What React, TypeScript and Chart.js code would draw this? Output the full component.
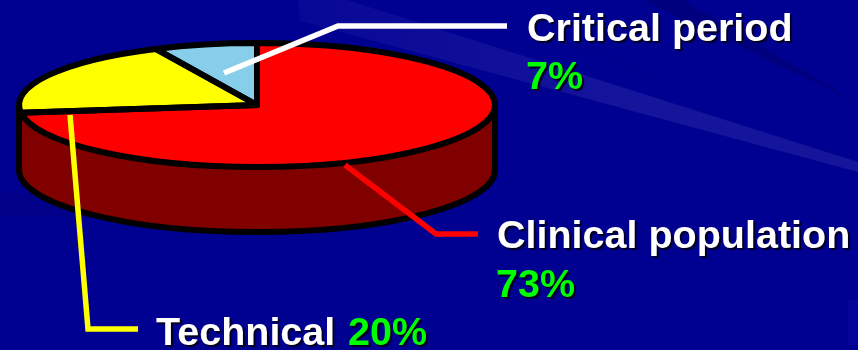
import React, { useEffect, useRef } from "react";
import { Chart, registerables } from "chart.js";

Chart.register(...registerables);

const categories = ["Clinical population", "Technical", "Critical period"];
const shares = [73, 20, 7];
const sliceColors = ["#FF0000", "#FFFF00", "#87CEEB"];
const wallColors = ["#800000", "#808000", "#43677A"];

const WIDTH = 858;
const HEIGHT = 350;
const PIE_X = 257;
const PIE_Y = 105;
const PIE_RX = 238;
const PIE_RY = 62;
const PIE_DEPTH = 65;
const OUTLINE = 6;
const FONT = 'bold 39.5px "Liberation Sans", Arial, sans-serif';

type Point = [number, number];

// Slide backdrop: faint rays across the navy field.
const lightRay: Point[] = [[298, 0], [347, 0], [858, 162], [858, 172], [300, 21]];
const darkRay: Point[] = [[643, 0], [683, 0], [858, 103]];
const darkRay2: Point[] = [[545, 35], [570, 42], [760, 120]];
const darkBand: Point[] = [[0, 193], [90, 193], [90, 217], [0, 217]];

const leaderCritical: Point[] = [[224, 73], [338, 26], [507, 26]];
const leaderClinical: Point[] = [[345, 165], [436, 234], [478, 234]];
const leaderTechnical: Point[] = [[70, 115], [88, 329], [138, 329]];

function polygon(ctx: CanvasRenderingContext2D, pts: Point[], color: string | CanvasGradient) {
  ctx.fillStyle = color;
  ctx.beginPath();
  pts.forEach(([x, y], i) => (i ? ctx.lineTo(x, y) : ctx.moveTo(x, y)));
  ctx.closePath();
  ctx.fill();
}

function polyline(ctx: CanvasRenderingContext2D, pts: Point[], color: string) {
  ctx.strokeStyle = color;
  ctx.lineWidth = 5.5;
  ctx.lineJoin = "miter";
  ctx.lineCap = "butt";
  ctx.beginPath();
  pts.forEach(([x, y], i) => (i ? ctx.lineTo(x, y) : ctx.moveTo(x, y)));
  ctx.stroke();
}

function label(ctx: CanvasRenderingContext2D, text: string, x: number, y: number, color: string) {
  ctx.save();
  ctx.font = FONT;
  ctx.textBaseline = "alphabetic";
  ctx.shadowColor = "rgba(0,0,30,1)";
  ctx.shadowOffsetX = 2;
  ctx.shadowOffsetY = 2;
  ctx.shadowBlur = 1;
  ctx.fillStyle = color;
  ctx.fillText(text, x, y);
  ctx.restore();
}

// Lays the flat pie down as a tilted disc with a solid wall under its front edge.
const tiltedPie = {
  id: "tiltedPie",
  beforeDraw(chart: any) {
    const ctx = chart.ctx as CanvasRenderingContext2D;
    ctx.save();
    ctx.fillStyle = "#000091";
    ctx.fillRect(0, 0, WIDTH, HEIGHT);
    polygon(ctx, darkBand, "#000088");
    const glow = ctx.createLinearGradient(298, 0, 640, 0);
    glow.addColorStop(0, "#080896");
    glow.addColorStop(1, "#15159C");
    polygon(ctx, lightRay, glow);
    polygon(ctx, darkRay, "#00007F");
    polygon(ctx, darkRay2, "#000088");
    polygon(ctx, [[848, 300], [858, 300], [858, 345], [848, 345]], "#05059A");
    ctx.restore();
  },
  beforeDatasetsDraw(chart: any) {
    const ctx = chart.ctx as CanvasRenderingContext2D;
    const arcs = chart.getDatasetMeta(0).data;

    // Wall segments follow the slice angles along the front half of the rim.
    arcs.forEach((arc: any, i: number) => {
      const from = Math.max(arc.startAngle, 0);
      const to = Math.min(arc.endAngle, Math.PI);
      if (to <= from) return;
      ctx.fillStyle = wallColors[i];
      ctx.beginPath();
      ctx.ellipse(PIE_X, PIE_Y, PIE_RX, PIE_RY, 0, from, to);
      ctx.ellipse(PIE_X, PIE_Y + PIE_DEPTH, PIE_RX, PIE_RY, 0, to, from, true);
      ctx.closePath();
      ctx.fill();
    });

    ctx.save();
    ctx.strokeStyle = "#000";
    ctx.lineWidth = OUTLINE;
    ctx.lineJoin = "round";
    ctx.beginPath();
    ctx.moveTo(PIE_X + PIE_RX, PIE_Y);
    ctx.lineTo(PIE_X + PIE_RX, PIE_Y + PIE_DEPTH);
    ctx.ellipse(PIE_X, PIE_Y + PIE_DEPTH, PIE_RX, PIE_RY, 0, 0, Math.PI);
    ctx.lineTo(PIE_X - PIE_RX, PIE_Y);
    ctx.stroke();
    ctx.restore();

    const { x, y, outerRadius } = arcs[0];
    ctx.save();
    ctx.translate(PIE_X, PIE_Y);
    ctx.scale(PIE_RX / outerRadius, PIE_RY / outerRadius);
    ctx.translate(-x, -y);
  },
  afterDatasetsDraw(chart: any) {
    const ctx = chart.ctx as CanvasRenderingContext2D;
    ctx.restore();

    ctx.save();
    ctx.strokeStyle = "#000";
    ctx.lineWidth = OUTLINE;
    ctx.lineJoin = "round";
    chart.getDatasetMeta(0).data.forEach((arc: any) => {
      ctx.beginPath();
      ctx.moveTo(PIE_X, PIE_Y);
      ctx.ellipse(PIE_X, PIE_Y, PIE_RX, PIE_RY, 0, arc.startAngle, arc.endAngle);
      ctx.closePath();
      ctx.stroke();
    });
    ctx.restore();
  },
  afterDraw(chart: any) {
    const ctx = chart.ctx as CanvasRenderingContext2D;
    ctx.save();
    polyline(ctx, leaderCritical, "#FFFFFF");
    polyline(ctx, leaderClinical, "#FF0000");
    polyline(ctx, leaderTechnical, "#FFFF00");

    label(ctx, categories[2], 527, 41, "#FFFFFF");
    label(ctx, `${shares[2]}%`, 526, 89, "#00FF00");
    label(ctx, categories[0], 497, 248, "#FFFFFF");
    label(ctx, `${shares[0]}%`, 496, 297, "#00FF00");
    label(ctx, categories[1], 156, 345, "#FFFFFF");
    label(ctx, `${shares[1]}%`, 348, 345, "#00FF00");
    ctx.restore();
  },
};

export default function App() {
  const canvasRef = useRef<HTMLCanvasElement>(null);

  useEffect(() => {
    const chart = new Chart(canvasRef.current as HTMLCanvasElement, {
      type: "pie",
      data: {
        labels: categories,
        datasets: [
          {
            data: shares,
            backgroundColor: sliceColors,
            borderWidth: 0,
            clip: false,
          } as any,
        ],
      },
      options: {
        responsive: false,
        animation: false,
        events: [],
        plugins: { legend: { display: false }, tooltip: { enabled: false } },
      },
      plugins: [tiltedPie],
    });
    return () => chart.destroy();
  }, []);

  return (
    <div style={{ position: "fixed", left: 0, top: 0, width: WIDTH, height: HEIGHT }}>
      <canvas ref={canvasRef} width={WIDTH} height={HEIGHT} style={{ display: "block" }} />
    </div>
  );
}
